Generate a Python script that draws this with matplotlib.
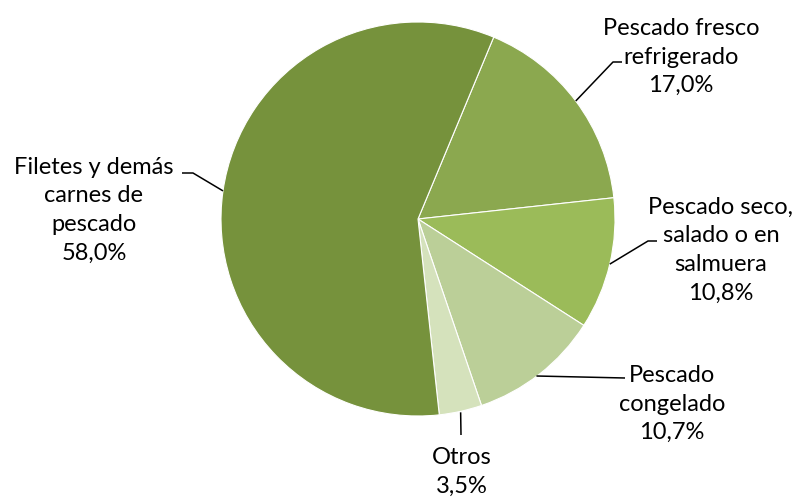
import numpy as np
import matplotlib.pyplot as plt

labels = ["Pescado fresco\nrefrigerado", "Pescado seco,\nsalado o en\nsalmuera",
          "Pescado\ncongelado", "Otros", "Filetes y demás\ncarnes de\npescado"]
values = [17.0, 10.8, 10.7, 3.5, 58.0]
colors = ["#8BA84F", "#9BBB59", "#BBCF98", "#D5E2BC", "#76923C"]

W, H = 797, 498
fig = plt.figure(figsize=(W / 100, H / 100), dpi=100)
ax = fig.add_axes([0, 0, 1, 1])

cx, cy, r = 418, H - 219, 197
wedges, _ = ax.pie(values, colors=colors, startangle=67.4, counterclock=False,
                   center=(cx, cy), radius=r, frame=True,
                   wedgeprops=dict(edgecolor="white", linewidth=0.8))
ax.set_xlim(0, W)
ax.set_ylim(0, H)
ax.set_aspect("equal")
ax.axis("off")

# label centre (x, y px), leader elbow (x, y px), leader end
label_pos = [(681, 57), (721, 250), (672, 404), (462, 472), (94, 210)]
elbows = [((613, 62), (622, 62)), ((648, 241), (657, 241)),
          (None, (625, 378)), (None, (461, 435)), ((193, 173), (182, 173))]

font = dict(family="Lato", fontsize=17, color="black")
for w, lab, v, (tx, ty), (elb, end) in zip(wedges, labels, values, label_pos, elbows):
    ang = np.deg2rad((w.theta1 + w.theta2) / 2)
    px, py = cx + r * np.cos(ang), cy + r * np.sin(ang)
    pts = [(px, py)]
    if elb is not None:
        pts.append((elb[0], H - elb[1]))
    pts.append((end[0], H - end[1]))
    if lab == "Pescado\ncongelado":
        pts = [(pts[0][0] - 3, H - 376), pts[-1]]
    if lab == "Otros":
        pts = [(pts[0][0], pts[0][1] - 1), pts[-1]]
    xs, ys = zip(*pts)
    ax.plot(xs, ys, color="black", lw=1.1, solid_capstyle="butt")
    txt = lab + "\n" + f"{v:.1f}%".replace(".", ",")
    ax.text(tx, H - ty, txt, ha="center", va="center", linespacing=1.45, **font)

fig.savefig("out.png", dpi=100)
